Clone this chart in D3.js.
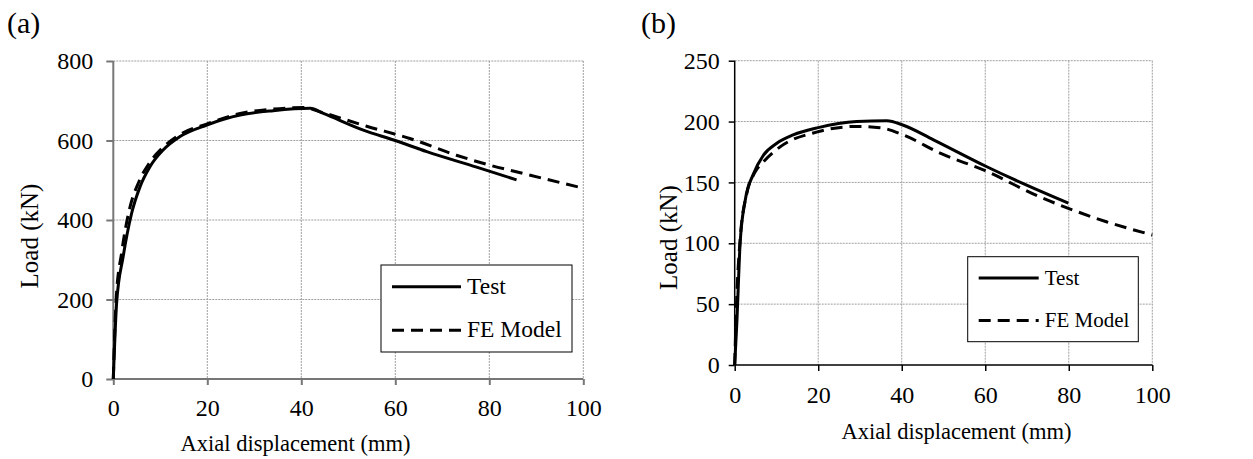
<!DOCTYPE html>
<html>
<head>
<meta charset="utf-8">
<script src="https://cdn.jsdelivr.net/npm/d3@7"></script>
<style>
  body { margin: 0; background: #fff; }
  text { font-family: "Liberation Serif", "Times New Roman", serif; fill: #000; }
</style>
</head>
<body>
<svg id="chart" width="1253" height="459"></svg>
<script>
// panel (a)
var testA_x = [0, 0.7, 2.1, 3.9, 5.7, 7.8, 10.6, 14.2, 19.9, 27, 34, 41.9, 44.7, 53.2, 60, 66.7, 77.3, 85.8];
var testA_y = [0, 190, 308, 417, 484, 534, 576, 610, 639, 664, 675, 681, 668, 626, 600, 572, 533, 501];
var feA_x = [0, 0.6, 1.8, 3.5, 5.4, 7.6, 10.5, 14.2, 20, 27, 34, 40.5, 44, 53.9, 63.1, 73, 80.1, 87.2, 100];
var feA_y = [0, 200, 320, 430, 495, 542, 582, 615, 642, 668, 679, 683, 672, 636, 605, 563, 538, 517, 480];
var yTicksA = [0, 200, 400, 600, 800];

// panel (b)
var testB_x = [0, 0.5, 1.3, 2.5, 4.5, 6.9, 10, 14, 20, 29.2, 36.4, 40.4, 47.6, 60, 69.1, 79.9];
var testB_y = [0, 34, 100, 135, 157, 172.5, 182, 189, 195, 200, 200.7, 197, 185, 163.5, 149, 133];
var feB_x = [0, 0.5, 1.3, 2.9, 4.8, 6.9, 10.8, 20, 29.2, 34.8, 40.4, 49.2, 60, 73.1, 79.9, 89, 100];
var feB_y = [0, 56, 103, 141, 158, 167, 179, 191.7, 196, 195, 189, 174, 159.6, 138, 128.7, 117.7, 106.8];
var yTicksB = [0, 50, 100, 150, 200, 250];

var xTicks = [0, 20, 40, 60, 80, 100];
var seriesNames = ["Test", "FE Model"];

var svg = d3.select("#chart");

function zip(xs, ys) {
    return xs.map(function (x, i) { return [x, ys[i]]; });
}

function drawPanel(opt) {
    var g = svg.append("g").attr("transform", "translate(" + opt.left + "," + opt.top + ")");
    var w = opt.width, h = opt.height;

    var x = d3.scaleLinear().domain([0, 100]).range([0, w]);
    var y = d3.scaleLinear().domain([0, opt.yMax]).range([h, 0]);

    // gridlines
    g.selectAll(".hgrid").data(opt.yTicks.slice(1)).enter().append("line")
        .attr("x1", 0).attr("x2", w)
        .attr("y1", function (d) { return y(d); }).attr("y2", function (d) { return y(d); })
        .attr("stroke", "#a0a0a0").attr("stroke-width", 1).attr("stroke-dasharray", "2,1");
    g.selectAll(".vgrid").data(xTicks.slice(1)).enter().append("line")
        .attr("y1", 0).attr("y2", h)
        .attr("x1", function (d) { return x(d); }).attr("x2", function (d) { return x(d); })
        .attr("stroke", "#a0a0a0").attr("stroke-width", 1).attr("stroke-dasharray", "2,1");

    // axes
    var xAxis = g.append("g").attr("transform", "translate(0," + h + ")")
        .call(d3.axisBottom(x).tickValues(xTicks).tickSize(6).tickPadding(opt.xPad));
    var yAxis = g.append("g")
        .call(d3.axisLeft(y).tickValues(opt.yTicks).tickSize(opt.yTick).tickPadding(opt.yPad));
    [xAxis, yAxis].forEach(function (a) {
        a.select(".domain").attr("stroke", opt.axisColor).attr("stroke-width", opt.axisWidth);
        a.selectAll(".tick line").attr("stroke", opt.axisColor).attr("stroke-width", opt.axisWidth);
        a.selectAll("text").attr("font-size", 24).attr("font-family", "Liberation Serif").attr("fill", "#000");
    });
    xAxis.select(".domain").attr("d", "M0,0H" + w);
    yAxis.select(".domain").attr("d", "M0," + h + "V0");

    // curves
    var line = d3.line()
        .x(function (d) { return x(d[0]); })
        .y(function (d) { return y(d[1]); })
        .curve(d3.curveMonotoneX);

    g.append("path").datum(zip(opt.feX, opt.feY))
        .attr("d", line).attr("fill", "none")
        .attr("stroke", "#000").attr("stroke-width", 3).attr("stroke-dasharray", "12,7");
    g.append("path").datum(zip(opt.testX, opt.testY))
        .attr("d", line).attr("fill", "none")
        .attr("stroke", "#000").attr("stroke-width", 3);

    // axis titles
    svg.append("text")
        .attr("x", opt.xTitle[0]).attr("y", opt.xTitle[1])
        .attr("text-anchor", "middle").attr("font-size", 22.5)
        .text("Axial displacement (mm)");
    svg.append("text")
        .attr("transform", "translate(" + opt.yTitle[0] + "," + opt.yTitle[1] + ") rotate(-90)")
        .attr("text-anchor", "middle").attr("font-size", 25)
        .text("Load (kN)");

    // panel letter
    svg.append("text").attr("x", opt.labelX).attr("y", 33)
        .attr("font-size", 30).text(opt.label);

    // legend
    var lg = svg.append("g").attr("transform", "translate(" + opt.legend[0] + "," + opt.legend[1] + ")");
    lg.append("rect").attr("x", 0).attr("y", 0)
        .attr("width", opt.legend[2]).attr("height", opt.legend[3])
        .attr("fill", "#fff").attr("stroke", "#000").attr("stroke-width", 1);
    seriesNames.forEach(function (name, i) {
        var yy = opt.legend[3] * (i === 0 ? 0.25 : 0.75);
        lg.append("line")
            .attr("x1", 11).attr("x2", opt.legendLine).attr("y1", yy).attr("y2", yy)
            .attr("stroke", "#000").attr("stroke-width", 3)
            .attr("stroke-dasharray", i === 0 ? null : "12,7");
        lg.append("text").attr("x", opt.legendLine + 6).attr("y", yy + 7)
            .attr("font-size", opt.legendFont).text(name);
    });
}

drawPanel({
    left: 113.3, top: 61, width: 470, height: 318, yMax: 800, yTicks: yTicksA,
    testX: testA_x, testY: testA_y, feX: feA_x, feY: feA_y,
    axisColor: "#777", axisWidth: 2,
    xPad: 14, yTick: 7, yPad: 13,
    xTitle: [295.5, 451], yTitle: [38, 236],
    label: "(a)", labelX: 7,
    legend: [381, 265, 191, 87], legendLine: 80, legendFont: 23.5
});

drawPanel({
    left: 734.7, top: 60.7, width: 417.6, height: 304.3, yMax: 250, yTicks: yTicksB,
    testX: testB_x, testY: testB_y, feX: feB_x, feY: feB_y,
    axisColor: "#000", axisWidth: 1.5,
    xPad: 15, yTick: 6, yPad: 9,
    xTitle: [956.5, 439], yTitle: [677, 237.5],
    label: "(b)", labelX: 641,
    legend: [967.7, 256.7, 170.6, 85], legendLine: 71, legendFont: 21
});
</script>
</body>
</html>
